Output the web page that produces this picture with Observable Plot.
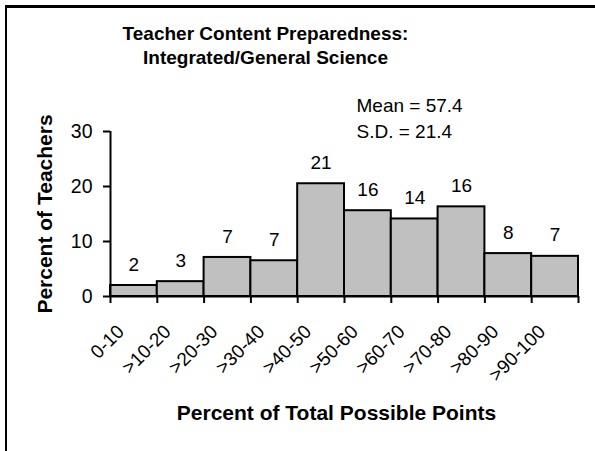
<!DOCTYPE html>
<html>
<head>
<meta charset="utf-8">
<script src="https://cdn.jsdelivr.net/npm/d3@7"></script>
<script src="https://cdn.jsdelivr.net/npm/@observablehq/plot@0.6"></script>
<style>
  html, body { margin: 0; padding: 0; background: #fff; }
  #wrap { position: relative; width: 595px; height: 451px; overflow: hidden; }
  #frame { position: absolute; left: 5px; top: 5px; width: 700px; height: 600px;
           border-left: 2.5px solid #000; border-top: 3px solid #000; pointer-events: none; }
</style>
</head>
<body>
<div id="wrap"><div id="frame"></div></div>
<script>
const categories = ["0-10", ">10-20", ">20-30", ">30-40", ">40-50", ">50-60", ">60-70", ">70-80", ">80-90", ">90-100"];
const percents = [2.0, 2.7, 7.1, 6.5, 20.5, 15.6, 14.1, 16.3, 7.8, 7.3];
const barLabels = ["2", "3", "7", "7", "21", "16", "14", "16", "8", "7"];
const yTicks = [0, 10, 20, 30];
const title = "Teacher Content Preparedness:\nIntegrated/General Science";
const stats = "Mean = 57.4\nS.D. = 21.4";
const xLabel = "Percent of Total Possible Points";
const yLabel = "Percent of Teachers";

const bins = categories.map((c, i) => ({cat: c, lo: i * 10, hi: (i + 1) * 10, mid: i * 10 + 5, v: percents[i], label: barLabels[i]}));
const edges = [0, ...bins.map(b => b.hi)];

const font = "'Liberation Sans', Arial, sans-serif";

const chart = Plot.plot({
  width: 595,
  height: 451,
  marginLeft: 110,
  marginRight: 17,
  marginTop: 131,
  marginBottom: 155,
  style: {fontFamily: font, fontSize: "19px", color: "#000", background: "transparent"},
  x: {domain: [0, 100]},
  y: {domain: [0, 30]},
  marks: [
    Plot.rectY(bins, {x1: "lo", x2: "hi", y: "v", fill: "#c0c0c0", stroke: "#000", strokeWidth: 2}),
    Plot.ruleY([0], {x1: 0, x2: 100, stroke: "#000", strokeWidth: 2}),
    Plot.ruleX([0], {y1: 0, y2: 30, stroke: "#000", strokeWidth: 2}),
    Plot.axisY({ticks: yTicks, tickSize: 7, tickPadding: 11, strokeWidth: 2, label: null, fontSize: 19.5}),
    Plot.axisX({ticks: edges, tickSize: 7, tickFormat: () => "", strokeWidth: 2, label: null}),
    Plot.axisX({ticks: bins.map(b => b.mid), tickSize: 0, tickPadding: 32, tickRotate: -45,
      tickFormat: d => categories[Math.round((d - 5) / 10)], dx: -13, label: null, fontSize: 19}),
    Plot.text(bins, {x: "mid", y: "v", text: "label", dy: -21, lineAnchor: "middle", fontSize: 19}),
    Plot.text([title], {frameAnchor: "top", dx: -79, dy: -87, textAnchor: "middle", lineAnchor: "middle", lineHeight: 1.27, fontWeight: "bold", fontSize: 19}),
    Plot.text([stats], {frameAnchor: "top-left", dx: 246, dy: -14.5, textAnchor: "start", lineAnchor: "middle", lineHeight: 1.37, fontSize: 19}),
    Plot.text([xLabel], {frameAnchor: "bottom", dx: -8, dy: 117, textAnchor: "middle", lineAnchor: "middle", fontWeight: "bold", fontSize: 21}),
    Plot.text([yLabel], {frameAnchor: "left", dx: -65, rotate: -90, textAnchor: "middle", lineAnchor: "middle", fontWeight: "bold", fontSize: 21})
  ]
});
document.getElementById("wrap").prepend(chart);
chart.style.position = "absolute";
chart.style.left = "0px";
chart.style.top = "0px";
</script>
</body>
</html>
